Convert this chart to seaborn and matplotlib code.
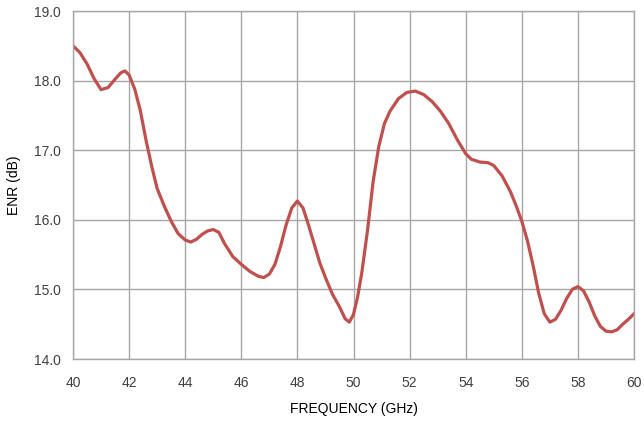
import numpy as np
import pandas as pd
import seaborn as sns
import matplotlib.pyplot as plt

# values
freq_ghz = [40.0, 40.25, 40.5, 40.75, 41.0, 41.25, 41.5, 41.7, 41.85, 42.0, 42.2,
            42.4, 42.6, 42.8, 43.0, 43.25, 43.5, 43.75, 44.0, 44.2, 44.4, 44.6,
            44.8, 45.0, 45.2, 45.4, 45.7, 46.0, 46.3, 46.6, 46.8, 47.0, 47.2,
            47.4, 47.6, 47.8, 48.0, 48.2, 48.4, 48.6, 48.8, 49.0, 49.25, 49.5,
            49.7, 49.85, 50.0, 50.15, 50.3, 50.5, 50.7, 50.9, 51.1, 51.3, 51.6,
            51.9, 52.2, 52.5, 52.8, 53.1, 53.4, 53.7, 54.0, 54.2, 54.5, 54.8,
            55.0, 55.3, 55.6, 55.8, 56.0, 56.2, 56.4, 56.6, 56.8, 57.0, 57.2,
            57.4, 57.6, 57.8, 58.0, 58.2, 58.4, 58.6, 58.8, 59.0, 59.2, 59.4,
            59.6, 59.8, 60.0]
enr_db = [18.50, 18.40, 18.24, 18.03, 17.87, 17.90, 18.02, 18.11, 18.14, 18.08, 17.88,
          17.57, 17.15, 16.78, 16.45, 16.20, 15.98, 15.80, 15.71, 15.68, 15.72, 15.79,
          15.84, 15.86, 15.82, 15.66, 15.47, 15.36, 15.26, 15.19, 15.17, 15.22, 15.36,
          15.62, 15.93, 16.17, 16.27, 16.17, 15.92, 15.65, 15.38, 15.17, 14.93, 14.75,
          14.58, 14.53, 14.64, 14.90, 15.25, 15.85, 16.55, 17.05, 17.38, 17.56, 17.74,
          17.83, 17.85, 17.80, 17.70, 17.56, 17.38, 17.15, 16.95, 16.87, 16.83, 16.82,
          16.78, 16.63, 16.40, 16.20, 15.98, 15.70, 15.35, 14.95, 14.65, 14.53, 14.57,
          14.70, 14.87, 15.00, 15.04, 14.98, 14.82, 14.62, 14.47, 14.40, 14.39, 14.42,
          14.50, 14.57, 14.65]

df = pd.DataFrame({"freq": freq_ghz, "enr": enr_db})

sns.set_style("white")
plt.rcParams['font.family'] = ['Liberation Sans', 'DejaVu Sans']

fig = plt.figure(figsize=(6.44, 4.23), dpi=100)
ax = fig.add_axes([73 / 644, 1 - 359 / 423, 561 / 644, 348 / 423])

sns.lineplot(data=df, x="freq", y="enr", ax=ax, color="#C0504D", linewidth=2.3)

ax.set_xlim(40, 60)
ax.set_ylim(14, 19)
ax.set_xticks(np.arange(40, 61, 2))
ax.set_yticks(np.arange(14, 19.1, 1))
ax.set_yticklabels([f"{v:.1f}" for v in np.arange(14, 19.1, 1)])

ax.grid(True, color="#a6a6a6", linewidth=1.0)
ax.set_axisbelow(True)
for s in ax.spines.values():
    s.set_color("#a6a6a6")
    s.set_linewidth(1.0)

ax.tick_params(axis="both", length=0, labelsize=10, labelcolor="#404040")
ax.tick_params(axis="y", pad=9)
ax.tick_params(axis="x", pad=12)

ax.set_xlabel("FREQUENCY (GHz)", fontsize=10, color="black", labelpad=9)
ax.set_ylabel("ENR (dB)", fontsize=10, color="black", labelpad=9)

fig.savefig("out.png", dpi=100)
